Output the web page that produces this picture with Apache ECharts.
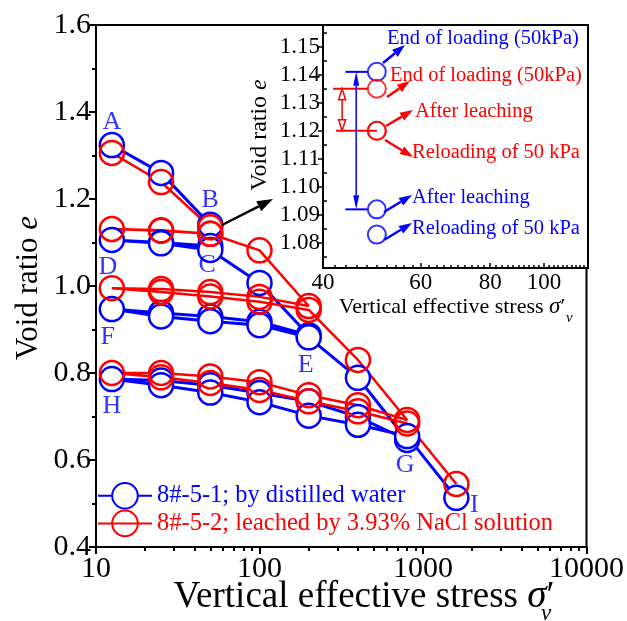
<!DOCTYPE html>
<html><head><meta charset="utf-8">
<script src="https://cdn.jsdelivr.net/npm/echarts@6/dist/echarts.min.js"></script>
<style>html,body{margin:0;padding:0;background:#fff}#c{width:627px;height:621px}</style>
</head><body><div id="c"></div>
<script>
// ---------------- data ----------------
const stressBlue = [12.5,25,50,50,25,12.5,25,50,100,200,100,50,25,12.5,25,50,100,200,400,800,400,200,100,50,25,12.5,25,50,100,200,400,800,1600];
const eBlue      = [1.324,1.260,1.141,1.092,1.100,1.106,1.098,1.083,1.007,0.887,0.918,0.930,0.938,0.947,0.930,0.919,0.910,0.882,0.789,0.646,0.699,0.735,0.754,0.772,0.783,0.786,0.772,0.755,0.733,0.702,0.681,0.655,0.513];
const stressRed  = [12.5,25,50,50,25,12.5,25,50,100,200,100,50,25,12.5,25,50,100,200,400,800,400,200,100,50,25,12.5,25,50,100,200,400,800,1600];
const eRed       = [1.306,1.239,1.135,1.120,1.127,1.131,1.128,1.120,1.082,0.954,0.975,0.986,0.993,0.995,0.986,0.976,0.964,0.945,0.830,0.692,0.726,0.749,0.779,0.792,0.800,0.800,0.790,0.777,0.761,0.735,0.712,0.684,0.545];
const seriesNames = ['8#-5-1; by distilled water','8#-5-2; leached by 3.93% NaCl solution'];
const pointLabels = ['A','B','C','D','E','F','G','H','I'];
const pointLabelIdx = [0,2,3,5,9,13,19,25,32];
const xTickLabels = [10,100,1000,10000];
const yMin = 0.4, yMax = 1.6, yStep = 0.2;
// inset
const insetStress = [50,50,50];
const insetBlue = [1.141,1.092,1.083];
const insetRed  = [1.135,1.120,1.120];
const insetXTicks = [40,60,80,100];
const insetXRange = [40,120];
const insetYTicks = [1.08,1.09,1.10,1.11,1.12,1.13,1.14,1.15];
const insetYRange = [1.0711,1.1577];
const insetNotes = ['End of loading (50kPa)','End of loading (50kPa)','After leaching','Reloading of 50 kPa','After leaching','Reloading of 50 kPa'];

// ---------------- helpers ----------------
const L = v => Math.log10(v);
const FF = 'Liberation Serif';
const BLUE = '#0000ff', RED = '#ff0000';
const minorMain = [];
for (let n = 1; n <= 3; n++) for (let k = 2; k <= 9; k++) minorMain.push(L(k * Math.pow(10, n)));
const minorInsetX = [];
for (let v = 42; v <= 120; v += 2) if (insetXTicks.indexOf(v) < 0) minorInsetX.push(L(v));
const minorInsetY = [];
for (let i = 0; i < insetYTicks.length; i++) minorInsetY.push(+(insetYTicks[i] - 0.005).toFixed(3));
minorInsetY.push(1.155);

const labelOffsets = [[0,-23],[0,-24],[-3,19],[-4,27],[-3,30],[-4,28],[-2,25],[0,27],[18,7]];

const chart = echarts.init(document.getElementById('c'), null, {renderer:'canvas'});

const axisLineStyle = {color:'#000', width:2};
const option = {
  animation:false,
  backgroundColor:'#fff',
  grid:[
    {left:96, top:25, right:39, bottom:74, show:true, borderColor:'#000', borderWidth:2, backgroundColor:'transparent'},
    {left:323, top:25, right:39, bottom:353, show:true, borderColor:'#000', borderWidth:2, backgroundColor:'#fff'}
  ],
  xAxis:[
    {gridIndex:0, type:'value', min:L(10), max:L(10000), position:'bottom',
     axisLine:{lineStyle:axisLineStyle}, splitLine:{show:false},
     axisTick:{customValues:xTickLabels.map(L), length:7, lineStyle:{width:2,color:'#000'}},
     axisLabel:{customValues:xTickLabels.map(L), formatter:v=>String(Math.round(Math.pow(10,v))), fontFamily:FF, fontSize:30, color:'#000', margin:7}},
    {gridIndex:0, type:'value', min:L(10), max:L(10000), position:'bottom',
     axisLine:{show:false}, splitLine:{show:false}, axisLabel:{show:false},
     axisTick:{customValues:minorMain, length:4, lineStyle:{width:2,color:'#000'}}},
    {gridIndex:1, type:'value', min:L(insetXRange[0]), max:L(insetXRange[1]), position:'bottom',
     axisLine:{lineStyle:axisLineStyle}, splitLine:{show:false},
     axisTick:{customValues:insetXTicks.map(L), inside:true, length:5, lineStyle:{width:1.5,color:'#000'}},
     axisLabel:{customValues:insetXTicks.map(L), formatter:v=>String(Math.round(Math.pow(10,v))), fontFamily:FF, fontSize:23, color:'#000', margin:3}},
    {gridIndex:1, type:'value', min:L(insetXRange[0]), max:L(insetXRange[1]), position:'bottom',
     axisLine:{show:false}, splitLine:{show:false}, axisLabel:{show:false},
     axisTick:{customValues:minorInsetX, inside:true, length:3, lineStyle:{width:1.5,color:'#000'}}}
  ],
  yAxis:[
    {gridIndex:0, type:'value', min:yMin, max:yMax, interval:yStep, position:'left',
     axisLine:{lineStyle:axisLineStyle}, splitLine:{show:false},
     axisTick:{length:7, lineStyle:{width:2,color:'#000'}},
     minorTick:{show:true, splitNumber:2, length:4, lineStyle:{width:2,color:'#000'}},
     axisLabel:{formatter:v=>v.toFixed(1), fontFamily:FF, fontSize:30, color:'#000', margin:5}},
    {gridIndex:1, type:'value', min:insetYRange[0], max:insetYRange[1], position:'left',
     axisLine:{lineStyle:axisLineStyle}, splitLine:{show:false},
     axisTick:{customValues:insetYTicks, length:5, lineStyle:{width:1.5,color:'#000'}},
     axisLabel:{customValues:insetYTicks, formatter:v=>v.toFixed(2), fontFamily:FF, fontSize:23, color:'#000', margin:3}},
    {gridIndex:1, type:'value', min:insetYRange[0], max:insetYRange[1], position:'left',
     axisLine:{show:false}, splitLine:{show:false}, axisLabel:{show:false},
     axisTick:{customValues:minorInsetY, inside:true, length:4, lineStyle:{width:1.5,color:'#000'}}}
  ],
  legend:{
    left:97, top:482, orient:'vertical', itemWidth:54, itemHeight:32, itemGap:0, padding:0,
    textStyle:{fontFamily:FF, fontSize:24.5},
    data:[{name:seriesNames[0], textStyle:{color:BLUE}},{name:seriesNames[1], textStyle:{color:RED}}]
  },
  series:[
    {name:seriesNames[0], type:'line', xAxisIndex:0, yAxisIndex:0,
     data:stressBlue.map((s,i)=>[L(s), eBlue[i]]),
     symbol:'circle', symbolSize:24, showAllSymbol:true, clip:false,
     lineStyle:{color:BLUE, width:3},
     itemStyle:{color:'#fff', borderColor:BLUE, borderWidth:2.5}},
    {name:seriesNames[1], type:'line', xAxisIndex:0, yAxisIndex:0,
     data:stressRed.map((s,i)=>[L(s), eRed[i]]),
     symbol:'circle', symbolSize:24, showAllSymbol:true, clip:false,
     lineStyle:{color:RED, width:2.5},
     itemStyle:{color:'rgba(0,0,0,0)', borderColor:RED, borderWidth:2.5}},
    {name:'labels', type:'scatter', xAxisIndex:0, yAxisIndex:0, symbolSize:1, silent:true, z:5,
     itemStyle:{color:'rgba(0,0,0,0)'},
     label:{show:true, position:'inside', formatter:'{b}', fontFamily:FF, fontSize:26, color:BLUE},
     data:pointLabels.map((n,i)=>({name:n, value:[L(stressBlue[pointLabelIdx[i]]), eBlue[pointLabelIdx[i]]], label:{offset:labelOffsets[i]}}))},
    {name:'insetBlue', type:'scatter', xAxisIndex:2, yAxisIndex:1, symbol:'circle', symbolSize:18, z:4,
     itemStyle:{color:'#fff', borderColor:BLUE, borderWidth:2},
     data:insetStress.map((s,i)=>[L(s), insetBlue[i]])},
    {name:'insetRed', type:'scatter', xAxisIndex:2, yAxisIndex:1, symbol:'circle', symbolSize:18, z:4,
     itemStyle:{color:'rgba(0,0,0,0)', borderColor:RED, borderWidth:2},
     data:insetStress.map((s,i)=>[L(s), insetRed[i]])}
  ]
};
chart.setOption(option);

// ---------------- annotations ----------------
function arrow(x1,y1,x2,y2,color,hl,hw,lw,hollow){
  const dx=x2-x1, dy=y2-y1, len=Math.hypot(dx,dy), ux=dx/len, uy=dy/len;
  const bx=x2-ux*hl, by=y2-uy*hl, px=-uy*hw/2, py=ux*hw/2;
  return [
    {type:'line', z:100, shape:{x1:x1,y1:y1,x2:hollow?x2:bx,y2:hollow?y2:by}, style:{stroke:color, lineWidth:lw}},
    {type:'polygon', z:101, shape:{points:[[x2,y2],[bx+px,by+py],[bx-px,by-py]]},
     style:hollow?{fill:'#fff', stroke:color, lineWidth:1.5}:{fill:color}}
  ];
}
const ip = (s,e) => chart.convertToPixel({xAxisIndex:2, yAxisIndex:1}, [L(s), e]);
const g = [];
function txt(x,y,text,size,color){
  return {type:'text', z:110, x:x, y:y, style:{text:text, fontFamily:FF, fontSize:size, fill:color, align:'left', verticalAlign:'middle'}};
}
// axis titles
g.push({type:'text', z:110, x:364, y:597, style:{text:'{n|Vertical effective stress }{s|σ}{p|′}', align:'center', verticalAlign:'middle',
  rich:{n:{fontFamily:FF, fontSize:37, fill:'#000'}, s:{fontFamily:FF, fontSize:39, fontStyle:'italic', fill:'#000'}, p:{fontFamily:FF, fontSize:37, fill:'#000'}}}});
g.push({type:'text', z:110, x:541, y:614, style:{text:'v', fontFamily:FF, fontSize:23, fontStyle:'italic', fill:'#000', align:'left', verticalAlign:'middle'}});
g.push({type:'text', z:110, x:29, y:288, rotation:Math.PI/2, style:{text:'{n|Void ratio }{i|e}', align:'center', verticalAlign:'middle',
  rich:{n:{fontFamily:FF, fontSize:31, fill:'#000'}, i:{fontFamily:FF, fontSize:31, fontStyle:'italic', fill:'#000'}}}});
// inset titles
g.push({type:'text', z:110, x:452, y:307, style:{text:'{n|Vertical effective stress }{s|σ}{p|′}', align:'center', verticalAlign:'middle',
  rich:{n:{fontFamily:FF, fontSize:22, fill:'#000'}, s:{fontFamily:FF, fontSize:23, fontStyle:'italic', fill:'#000'}, p:{fontFamily:FF, fontSize:22, fill:'#000'}}}});
g.push({type:'text', z:110, x:566, y:318, style:{text:'v', fontFamily:FF, fontSize:15, fontStyle:'italic', fill:'#000', align:'left', verticalAlign:'middle'}});
g.push({type:'text', z:110, x:260, y:135, rotation:Math.PI/2, style:{text:'{n|Void ratio }{i|e}', align:'center', verticalAlign:'middle',
  rich:{n:{fontFamily:FF, fontSize:24, fill:'#000'}, i:{fontFamily:FF, fontSize:24, fontStyle:'italic', fill:'#000'}}}});
// black arrow from main plot to inset
g.push(...arrow(222,225,273,199,'#000',16,11,2.5,false));
// inset bracket lines
const pB0 = ip(50, insetBlue[0]), pB1 = ip(50, insetBlue[1]);
const pR0 = ip(50, insetRed[0]),  pR1 = ip(50, insetRed[1]);
const xBlueArrow = ip(45.9, insetBlue[0])[0], xBlueStart = ip(43.9, insetBlue[0])[0];
const xRedArrow = ip(43.3, insetRed[0])[0], xRedStart = ip(41.7, insetRed[0])[0];
g.push({type:'line', z:90, shape:{x1:xBlueStart, y1:pB0[1], x2:pB0[0]-9, y2:pB0[1]}, style:{stroke:BLUE, lineWidth:2}});
g.push({type:'line', z:90, shape:{x1:xBlueStart, y1:pB1[1], x2:pB1[0]-9, y2:pB1[1]}, style:{stroke:BLUE, lineWidth:2}});
g.push({type:'line', z:90, shape:{x1:xRedStart, y1:pR0[1], x2:pR0[0]-9, y2:pR0[1]}, style:{stroke:RED, lineWidth:2}});
g.push({type:'line', z:90, shape:{x1:xRedStart+3, y1:pR1[1], x2:pR1[0], y2:pR1[1]}, style:{stroke:RED, lineWidth:2}});
const yMidB = (pB0[1]+pB1[1])/2, yMidR = (pR0[1]+pR1[1])/2;
g.push(...arrow(xBlueArrow, yMidB, xBlueArrow, pB0[1], BLUE, 14, 6, 1.5, false));
g.push(...arrow(xBlueArrow, yMidB, xBlueArrow, pB1[1], BLUE, 14, 6, 1.5, false));
g.push(...arrow(xRedArrow, yMidR, xRedArrow, pR0[1], RED, 11, 7, 1.5, true));
g.push(...arrow(xRedArrow, yMidR, xRedArrow, pR1[1], RED, 11, 7, 1.5, true));
// inset notes with arrows
const noteColor = [BLUE, RED, RED, RED, BLUE, BLUE];
const notePos = [[387,39],[390,76],[415,112],[412,153],[412,198],[412,229]];
const noteArrow = [[383,63,405,45],[387,97,410,81],[386,126,413,110],[385,140,413,157],[384,212,412,195],[384,240,412,223]];
insetNotes.forEach((t,i)=>{
  g.push(txt(notePos[i][0], notePos[i][1], t, 20.5, noteColor[i]));
  const a = noteArrow[i];
  g.push(...arrow(a[0],a[1],a[2],a[3],noteColor[i],13,9,2.5,false));
});
chart.setOption({graphic:g});
</script>
</body></html>
